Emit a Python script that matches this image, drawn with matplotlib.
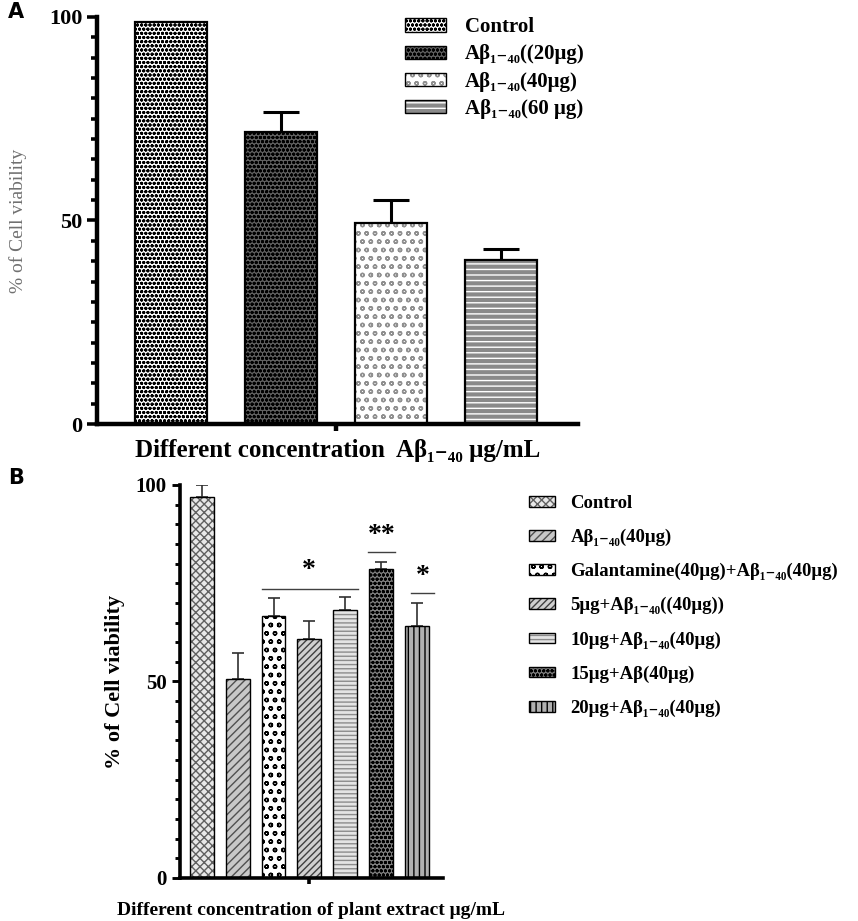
import numpy as np
import matplotlib
matplotlib.use("Agg")
import matplotlib.pyplot as plt
from matplotlib.patches import Patch
from matplotlib.legend_handler import HandlerTuple
from matplotlib.ticker import MultipleLocator

plt.rcParams['font.family'] = ['Liberation Serif', 'DejaVu Serif']
plt.rcParams['font.weight'] = 'bold'
plt.rcParams['axes.labelweight'] = 'bold'
plt.rcParams['hatch.linewidth'] = 1.0

# ---- data: panel A ----
a_labels = ['Control', 'Aβ₁₋₄₀((20μg)', 'Aβ₁₋₄₀(40μg)', 'Aβ₁₋₄₀(60 μg)']
a_means = [98.8, 71.7, 49.4, 40.3]
a_err = [0.0, 5.0, 5.6, 2.7]

# ---- data: panel B ----
b_labels = ['Control', 'Aβ₁₋₄₀(40μg)', 'Galantamine(40μg)+Aβ₁₋₄₀(40μg)',
            '5μg+Aβ₁₋₄₀((40μg))', '10μg+Aβ₁₋₄₀(40μg)', '15μg+Aβ(40μg)',
            '20μg+Aβ₁₋₄₀(40μg)']
b_means = [96.9, 50.6, 66.7, 60.8, 68.2, 78.6, 64.1]
b_err = [3.1, 6.7, 4.5, 4.6, 3.3, 1.8, 5.9]

y_ticks = [0, 50, 100]
y_ticklabels = ['0', '50', '100']

# styles (face, hatch, hatch colour)
a_style = [('white', 'oooo', 'black'),
           ('#606060', 'oooo', 'black'),
           ('white', 'oo', '#909090'),
           ('#8a8a8a', '---', 'white')]
b_style = [('#e8e8e8', 'xxxx', '#606060'),
           ('#c8c8c8', '////', '#505050'),
           ('white', 'oo', 'black'),
           ('#d0d0d0', '/////', '#404040'),
           ('#e4e4e4', '----', '#8c8c8c'),
           ('#808080', 'oooo', 'black'),
           ('#b0b0b0', '|||', 'black')]


def draw_bars(ax, xs, vals, width, styles, lw):
    handles = []
    for x, v, (fc, hat, hc) in zip(xs, vals, styles):
        ax.bar(x, v, width, color=fc, edgecolor=hc, hatch=hat, linewidth=0, zorder=2)
        ax.bar(x, v, width, fill=False, edgecolor='black', linewidth=lw, zorder=3)
        handles.append((Patch(facecolor=fc, edgecolor=hc, hatch=hat, linewidth=0),
                        Patch(fill=False, edgecolor='black', linewidth=1)))
    return handles


def style_axis(ax, lw, tick_len, label_size):
    for s in ['top', 'right']:
        ax.spines[s].set_visible(False)
    ax.spines['left'].set_linewidth(lw)
    ax.spines['bottom'].set_linewidth(lw)
    ax.set_ylim(0, 100)
    ax.set_yticks(y_ticks)
    ax.set_yticklabels(y_ticklabels, fontsize=label_size, fontweight='bold')
    ax.yaxis.set_minor_locator(MultipleLocator(5))
    ax.tick_params(axis='y', which='major', length=tick_len, width=lw * 0.8)
    ax.tick_params(axis='y', which='minor', length=tick_len * 0.6, width=lw * 0.8)
    ax.tick_params(axis='x', length=tick_len * 0.7, width=lw, labelbottom=False)


fig = plt.figure(figsize=(8.58, 9.21), dpi=100)

# ---------------- panel A ----------------
axA = fig.add_axes([0.113, 0.5396, 0.561, 0.442])
xa = np.arange(len(a_means))
hA = draw_bars(axA, xa, a_means, 0.655, a_style, 1.6)
axA.errorbar(xa, a_means, yerr=[np.zeros(len(a_err)), a_err], fmt='none',
             ecolor='black', elinewidth=2.2, capsize=13, capthick=2.2, zorder=1)
axA.set_xlim(-0.677, 3.70)
axA.set_xticks([1.5])
style_axis(axA, 3.2, 7, 16)
axA.set_ylabel('% of Cell viability', fontsize=14, fontweight='normal',
               color='#707070', labelpad=16)
axA.set_xlabel('Different concentration  Aβ₁₋₄₀ μg/mL', fontsize=18, labelpad=6)
axA.legend(hA, a_labels, handler_map={tuple: HandlerTuple(ndivide=1)},
           loc='upper left', bbox_to_anchor=(0.6, 1.045), frameon=False,
           fontsize=15, handlelength=2.0, handleheight=0.6, labelspacing=0.34,
           handletextpad=0.9)

# ---------------- panel B ----------------
axB = fig.add_axes([0.2098, 0.0467, 0.3065, 0.4267])
xb = np.arange(len(b_means))
hB = draw_bars(axB, xb, b_means, 0.67, b_style, 1.0)
axB.errorbar(xb, b_means, yerr=[np.zeros(len(b_err)), b_err], fmt='none',
             ecolor='#303030', elinewidth=1.2, capsize=4.3, capthick=1.2, zorder=1)
axB.set_xlim(-0.615, 6.74)
axB.set_xticks([3])
style_axis(axB, 2.6, 6, 15)
axB.set_ylabel('% of Cell viability', fontsize=16, labelpad=8)
axB.set_xlabel('Different concentration of plant extract μg/mL', fontsize=14,
               labelpad=13)

# significance marks
axB.plot([1.67, 4.35], [73.5, 73.5], color='#404040', lw=1)
axB.text(3.0, 75.0, '*', ha='center', va='bottom', fontsize=20)
axB.plot([4.65, 5.4], [83.0, 83.0], color='#404040', lw=1)
axB.text(5.02, 84.0, '**', ha='center', va='bottom', fontsize=20)
axB.plot([5.85, 6.5], [72.5, 72.5], color='#404040', lw=1)
axB.text(6.17, 73.5, '*', ha='center', va='bottom', fontsize=20)

fig.legend(hB, b_labels, handler_map={tuple: HandlerTuple(ndivide=1)},
           loc='upper left', bbox_to_anchor=(0.597, 0.481), frameon=False,
           fontsize=13.5, handlelength=1.4, handleheight=0.5, labelspacing=0.9,
           handletextpad=0.8)

# panel letters
fig.text(0.009, 0.998, 'A', fontsize=15, family='DejaVu Sans', va='top')
fig.text(0.009, 0.492, 'B', fontsize=15, family='DejaVu Sans', va='top')

fig.savefig('out.png', dpi=100)
